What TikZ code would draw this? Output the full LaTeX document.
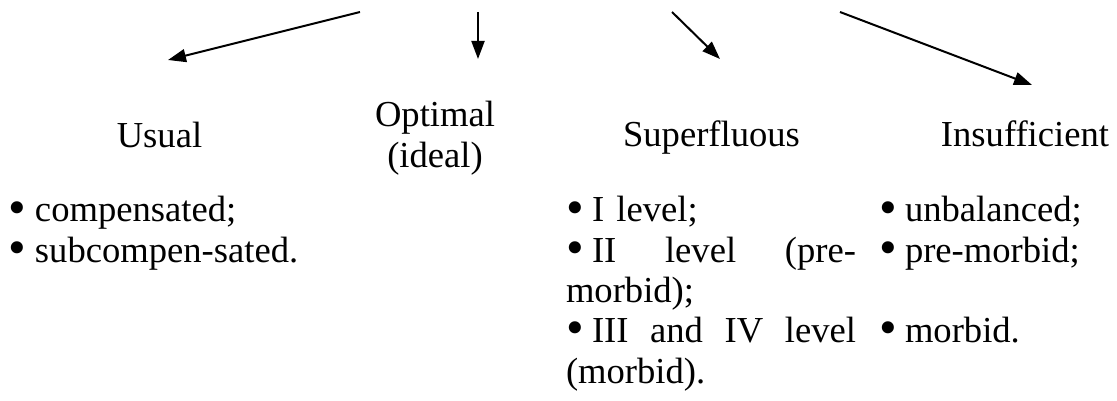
\documentclass[tikz,border=0pt]{standalone}
\usepackage{fontspec}
\usepackage{graphicx}
\setmainfont{Liberation Serif}
\usetikzlibrary{arrows.meta}
\newcommand\bul{\makebox[26pt][l]{\smash{\raisebox{-2pt}{\scalebox{1.38}{\textbullet}}}}}
\begin{document}
\begin{tikzpicture}[x=1pt,y=-1pt,
  lbl/.style={inner sep=0pt, outer sep=0pt, font=\fontsize{36.6}{40.3}\selectfont},
  col/.style={lbl, anchor=base west, align=left},
  arr/.style={line width=2pt, -{Triangle[length=18pt,width=13pt]}}]
\useasboundingbox (0,0) rectangle (1117,401);
% arrow end points
\coordinate (s1) at (360,12);  \coordinate (e1) at (168,60);
\coordinate (s2) at (478,12);  \coordinate (e2) at (478,59);
\coordinate (s3) at (672,12);  \coordinate (e3) at (720,59);
\coordinate (s4) at (840,12);  \coordinate (e4) at (1032,85);
\draw[arr] (s1) -- (e1);
\draw[arr] (s2) -- (e2);
\draw[arr] (s3) -- (e3);
\draw[arr] (s4) -- (e4);
% headings
\node[lbl, anchor=base] (usual) at (159.5,148) {Usual};
\node[lbl, anchor=base, text width=160pt, align=center] (optimal) at (435,127) {Optimal\\(ideal)};
\node[lbl, anchor=base] (superfl) at (711.5,147) {Superfluous};
\node[lbl, anchor=base] (insuff) at (1025,147) {Insufficient};
% lists
\node[col, text width=320pt] (usuallist) at (9,222) {\bul compensated;\\ \bul subcompen-sated.};
\node[col, text width=290pt] (superlist) at (566,222)
  {\bul I level;\\
   \leavevmode\hbox to 290pt{\bul II\hfill level\hfill (pre-}\\
   morbid);\\
   \leavevmode\hbox to 290pt{\bul III\hfill and\hfill IV\hfill level}\\
   (morbid).};
\node[col, text width=236pt] (insufflist) at (879,222) {\bul unbalanced;\\ \bul pre-morbid;\\ \mbox{}\\ \bul morbid.};
\end{tikzpicture}
\end{document}
